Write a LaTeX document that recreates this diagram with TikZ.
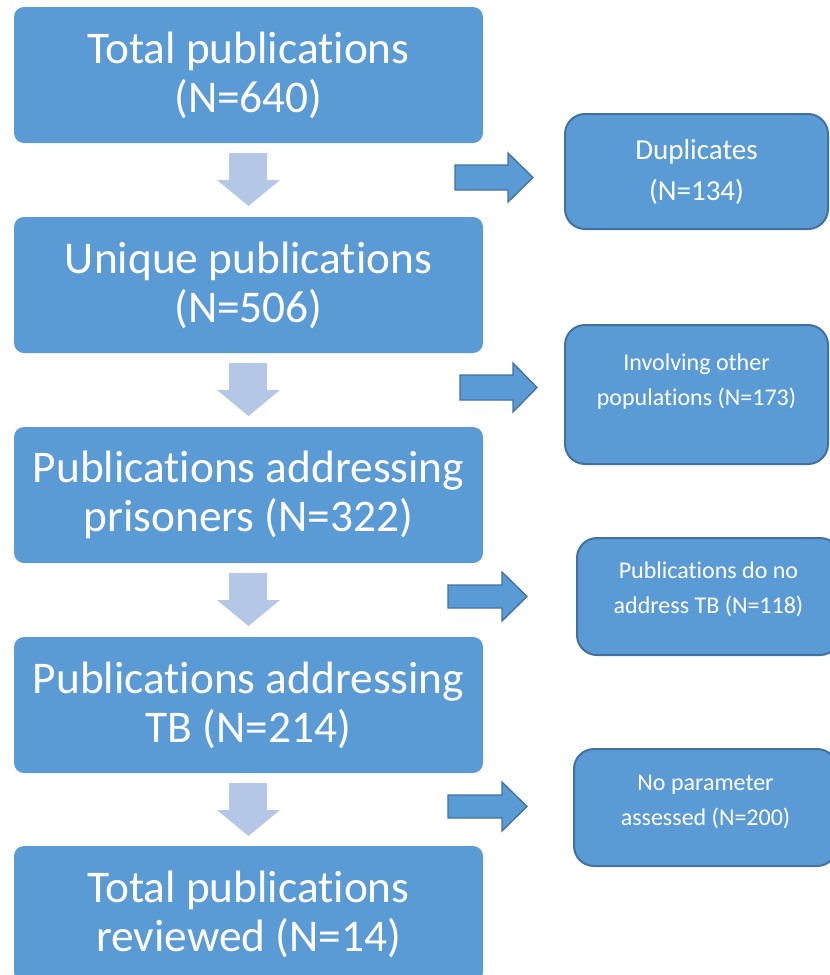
\documentclass[tikz,border=0pt]{standalone}
\usepackage{fontspec}
\setmainfont{Carlito}[Ligatures={NoCommon,NoRequired,NoContextual},RawFeature={-liga;-clig;-calt;-dlig}]
\definecolor{boxblue}{HTML}{5B9BD5}
\definecolor{edgeblue}{HTML}{41719C}
\definecolor{lightarrow}{HTML}{B4C7E7}
\begin{document}
\begin{tikzpicture}[x=0.75pt,y=-0.75pt,
  mainbox/.style={fill=boxblue, rounded corners=7.5pt, minimum width=351.75pt, minimum height=102pt,
    text=white, align=center, font=\fontsize{34}{36.75}\selectfont, inner sep=0pt},
  sidebox/.style={fill=boxblue, draw=edgeblue, line width=1.5pt, rounded corners=15pt,
    minimum width=197.25pt, inner sep=0pt},
  sidetext/.style={text=white, align=center, font=\fontsize{18}{26.25}\selectfont, inner sep=0pt},
  downarrow/.style={fill=lightarrow},
  rightarrow/.style={fill=boxblue, draw=edgeblue, line width=1pt, line join=miter}]
\useasboundingbox (0,0) rectangle (830,975);
\clip (0,0) rectangle (830,975);

% main column
\node[mainbox] (n1) at (248.5,75)  {Total publications\\(N=640)};
\node[mainbox] (n2) at (248.5,285) {Unique publications\\(N=506)};
\node[mainbox] (n3) at (248.5,495) {Publications addressing\\prisoners (N=322)};
\node[mainbox] (n4) at (248.5,705) {Publications addressing\\TB (N=214)};
\node[mainbox] (n5) at (248.5,914) {Total publications\\reviewed (N=14)};

% down arrows
\foreach \dy in {0,210,420,630}{
  \fill[downarrow] (229,153+\dy) -- (267,153+\dy) -- (267,180+\dy) -- (280,180+\dy)
    -- (248.5,206+\dy) -- (217,180+\dy) -- (229,180+\dy) -- cycle;
}

% side boxes
\node[sidebox, minimum height=86.25pt, font=\fontsize{21.75}{30.75}\selectfont, text=white, align=center]
  (s1) at (696.5,171.5) {Duplicates\\(N=134)};
\node[sidebox, minimum height=104.25pt] (s2) at (696.5,394.5) {};
\node[sidetext] (t2) at (696.5,382) {Involving other\\populations (N=173)};
\node[sidebox, minimum height=87.75pt] (s3) at (708.5,596.5) {};
\node[sidetext] (t3) at (708.5,589) {Publications do no\\address TB (N=118)};
\node[sidebox, minimum height=87.75pt] (s4) at (705.5,807.5) {};
\node[sidetext] (t4) at (705.5,801.5) {No parameter\\assessed (N=200)};

% right arrows
\draw[rightarrow] (455,165) -- (508,165) -- (508,153) -- (533,177.5) -- (508,202) -- (508,190) -- (455,190) -- cycle;
\draw[rightarrow] (460,375) -- (513,375) -- (513,363) -- (537,387.5) -- (513,412) -- (513,400) -- (460,400) -- cycle;
\draw[rightarrow] (448,585) -- (502,585) -- (502,572) -- (527,596.5) -- (502,621) -- (502,608) -- (448,608) -- cycle;
\draw[rightarrow] (448,795) -- (502,795) -- (502,782) -- (527,806.5) -- (502,831) -- (502,818) -- (448,818) -- cycle;
\end{tikzpicture}
\end{document}
